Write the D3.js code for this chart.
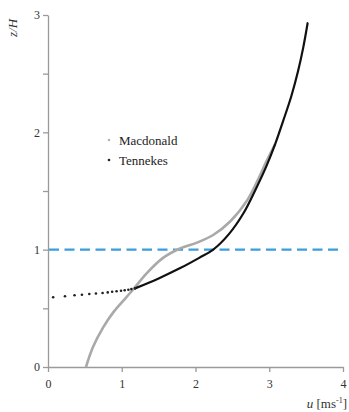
<!DOCTYPE html>
<html>
<head>
<meta charset="utf-8">
<script src="https://d3js.org/d3.v7.min.js"></script>
<style>
  body { margin: 0; background: #fff; }
  svg { display: block; font-family: "Liberation Serif", "DejaVu Serif", serif; }
  .axis path, .axis line { stroke: #9a9a9a; stroke-width: 1.3; }
  .axis text { fill: #333; font-size: 12px; font-family: "Liberation Serif", serif; }
</style>
</head>
<body>
<svg class="chart" width="349" height="412"></svg>
<script>
/* values: u in m/s, z/H */
var macU = [0.515, 0.61, 0.75, 0.89, 1.07, 1.18, 1.34, 1.56, 1.79, 2.02, 2.24, 2.47, 2.70, 2.85, 2.96, 3.08];
var macZ = [0.00, 0.17, 0.34, 0.47, 0.60, 0.68, 0.80, 0.93, 1.01, 1.06, 1.125, 1.24, 1.42, 1.60, 1.75, 1.90];

var tenU = [1.18, 1.50, 1.80, 2.05, 2.24, 2.45, 2.65, 2.82, 2.96, 3.08, 3.19, 3.30, 3.39, 3.46, 3.52];
var tenZ = [0.67, 0.755, 0.845, 0.93, 1.00, 1.13, 1.31, 1.52, 1.71, 1.90, 2.10, 2.31, 2.52, 2.72, 2.93];

/* the dotted low part of the Tennekes profile */
var tenDotU = [0.07, 0.23, 0.36, 0.46, 0.56, 0.65, 0.74, 0.81, 0.87, 0.93, 0.99, 1.04, 1.09, 1.13, 1.18];
var tenDotZ = [0.594, 0.603, 0.611, 0.616, 0.622, 0.626, 0.631, 0.636, 0.641, 0.645, 0.650, 0.654, 0.658, 0.664, 0.670];

var canopyTop = 1;
var xTicks = [0, 1, 2, 3, 4];
var yTicks = [0, 0.5, 1, 1.5, 2, 2.5, 3];
var legendNames = ["Macdonald", "Tennekes"];

var svg = d3.select(".chart");

var x = d3.scaleLinear().domain([0, 4]).range([48, 343]),
    y = d3.scaleLinear().domain([0, 3]).range([367, 15]);

function pairs(us, zs) {
  return us.map(function(u, i) { return {u: u, z: zs[i]}; });
}

/* axes */
svg.append("g")
    .attr("class", "axis")
    .attr("transform", "translate(0," + y(0) + ")")
    .call(d3.axisBottom(x).tickValues(xTicks).tickSize(5).tickSizeOuter(0).tickFormat(d3.format("d")))
    .selectAll("text").attr("dy", "1.05em");

var yAxis = svg.append("g")
    .attr("class", "axis")
    .attr("transform", "translate(" + x(0) + ",0)")
    .call(d3.axisLeft(y).tickValues(yTicks).tickSize(5).tickSizeOuter(0)
      .tickFormat(function(d) { return d % 1 === 0 ? d : ""; }));
yAxis.selectAll("text").attr("x", -8);

/* canopy height */
svg.append("line")
    .attr("x1", x(0) + 1).attr("x2", x(4))
    .attr("y1", y(canopyTop)).attr("y2", y(canopyTop))
    .attr("stroke", "#3a9de0")
    .attr("stroke-width", 2.4)
    .attr("stroke-dasharray", "10,5.5");

var line = d3.line()
    .x(function(d) { return x(d.u); })
    .y(function(d) { return y(d.z); })
    .curve(d3.curveCatmullRom);

svg.append("path")
    .datum(pairs(macU, macZ))
    .attr("d", line)
    .attr("fill", "none")
    .attr("stroke", "#a9a9a9")
    .attr("stroke-width", 2.6);

svg.append("path")
    .datum(pairs(tenU, tenZ))
    .attr("d", line)
    .attr("fill", "none")
    .attr("stroke", "#111")
    .attr("stroke-width", 2.2)
    .attr("stroke-linecap", "round");

svg.selectAll(".tdot")
    .data(pairs(tenDotU, tenDotZ))
    .enter().append("circle")
      .attr("class", "tdot")
      .attr("cx", function(d) { return x(d.u); })
      .attr("cy", function(d) { return y(d.z); })
      .attr("r", 1.3)
      .attr("fill", "#222");

/* legend */
var legend = svg.selectAll(".leg")
    .data(legendNames)
    .enter().append("g")
      .attr("class", "leg")
      .attr("transform", function(d, i) { return "translate(109," + (140 + i * 20) + ")"; });

legend.append("circle")
    .attr("r", 1.3)
    .attr("fill", function(d, i) { return i === 0 ? "#b5b5b5" : "#222"; });

legend.append("text")
    .attr("x", 10)
    .attr("dy", "0.35em")
    .attr("font-size", 13)
    .attr("fill", "#222")
    .text(function(d) { return d; });

/* axis titles */
svg.append("text")
    .attr("transform", "translate(17,28) rotate(-90)")
    .attr("text-anchor", "middle")
    .attr("font-size", 13)
    .attr("font-style", "italic")
    .attr("fill", "#333")
    .text("z/H");

var xt = svg.append("text")
    .attr("x", 347)
    .attr("y", 408)
    .attr("text-anchor", "end")
    .attr("font-size", 13)
    .attr("fill", "#333");
xt.append("tspan").attr("font-style", "italic").text("u");
xt.append("tspan").text(" [ms");
xt.append("tspan").attr("font-size", 8).attr("dy", -5).text("-1");
xt.append("tspan").attr("dy", 5).text("]");
</script>
</body>
</html>
